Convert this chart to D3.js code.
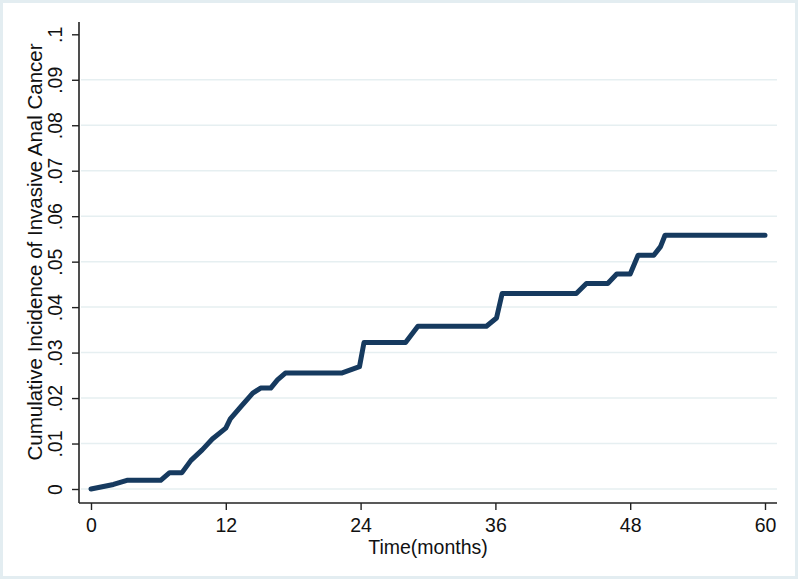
<!DOCTYPE html>
<html>
<head>
<meta charset="utf-8">
<script src="https://cdn.jsdelivr.net/npm/d3@7"></script>
<style>
  body { margin: 0; background: #fff; }
  text { font-family: "Liberation Sans", Arial, sans-serif; fill: #111; }
</style>
</head>
<body>
<div id="vis"></div>
<script>
// values
var months = [0, 1, 2, 3.2, 6.2, 7.0, 8.1, 8.9, 9.9, 10.8, 12.0, 12.4, 13.4, 14.4, 15.1, 16.0, 16.6, 17.3,
  22.3, 23.9, 24.3, 28.0, 29.1, 35.2, 36.1, 36.6, 43.2, 44.1, 46.0, 46.8, 48.0, 48.7, 50.1, 50.7, 51.1, 60];
var incidence = [0, 0.0005, 0.001, 0.0019, 0.0019, 0.0036, 0.0036, 0.0063, 0.0086, 0.011, 0.0134, 0.0154,
  0.0183, 0.0211, 0.0222, 0.0222, 0.0240, 0.0255, 0.0255, 0.0269, 0.0322, 0.0322, 0.0358, 0.0358, 0.0376,
  0.0430, 0.0430, 0.0452, 0.0452, 0.0473, 0.0473, 0.0514, 0.0514, 0.0533, 0.0558, 0.0558];
var xTicks = [0, 12, 24, 36, 48, 60];
var yTicks = [0, 0.01, 0.02, 0.03, 0.04, 0.05, 0.06, 0.07, 0.08, 0.09, 0.1];
var yTickLabels = ['0', '.01', '.02', '.03', '.04', '.05', '.06', '.07', '.08', '.09', '.1'];

var width = 800;
var height = 581;

var svg = d3.select('#vis').append('svg')
  .attr('width', width)
  .attr('height', height);

// light frame round the graph region
svg.append('rect')
  .attr('x', 1.5).attr('y', 1.5)
  .attr('width', 795).attr('height', 576)
  .attr('fill', '#fff')
  .attr('stroke', '#e3edf1')
  .attr('stroke-width', 3);

var x = d3.scaleLinear().domain([0, 60]).range([91, 765]);
var y = d3.scaleLinear().domain([0, 0.1]).range([489, 34.3]);

var plotLeft = 79, plotRight = 777, plotBottom = 503, plotTop = 22;

// gridlines (not at the top tick)
svg.append('g').selectAll('line')
  .data(yTicks.filter(function (d) { return d < 0.1; }))
  .enter().append('line')
  .attr('x1', plotLeft + 2).attr('x2', plotRight)
  .attr('y1', function (d) { return y(d); })
  .attr('y2', function (d) { return y(d); })
  .attr('stroke', '#e6eff1')
  .attr('stroke-width', 1.5);

// y axis
var yAxis = svg.append('g')
  .attr('transform', 'translate(' + plotLeft + ',0)')
  .call(d3.axisLeft(y).tickValues(yTicks).tickSize(7).tickPadding(0)
    .tickFormat(function (d, i) { return yTickLabels[i]; }));
yAxis.select('.domain').attr('d', 'M0,' + plotTop + 'V' + plotBottom)
  .attr('stroke', '#222').attr('stroke-width', 1.6);
yAxis.selectAll('.tick line').attr('stroke', '#222').attr('stroke-width', 1.4);
yAxis.selectAll('.tick text')
  .attr('x', 0).attr('dy', null)
  .attr('transform', 'translate(-17,0) rotate(-90)')
  .attr('text-anchor', 'middle')
  .attr('font-size', 19.5)
  .attr('fill', '#111');

// x axis
var xAxis = svg.append('g')
  .attr('transform', 'translate(0,' + plotBottom + ')')
  .call(d3.axisBottom(x).tickValues(xTicks).tickSize(7).tickPadding(0));
xAxis.select('.domain').attr('d', 'M' + plotLeft + ',0H' + plotRight)
  .attr('stroke', '#222').attr('stroke-width', 1.6);
xAxis.selectAll('.tick line').attr('stroke', '#222').attr('stroke-width', 1.4);
xAxis.selectAll('.tick text')
  .attr('y', 29).attr('dy', null)
  .attr('font-size', 19.5)
  .attr('fill', '#111');

// axis titles
svg.append('text')
  .attr('transform', 'translate(42,252) rotate(-90)')
  .attr('text-anchor', 'middle')
  .attr('font-size', 20.5)
  .text('Cumulative Incidence of Invasive Anal Cancer');

svg.append('text')
  .attr('x', 428).attr('y', 554)
  .attr('text-anchor', 'middle')
  .attr('font-size', 19.5)
  .text('Time(months)');

// cumulative incidence curve
var line = d3.line()
  .x(function (d, i) { return x(months[i]); })
  .y(function (d) { return y(d); });

svg.append('path')
  .datum(incidence)
  .attr('d', line)
  .attr('fill', 'none')
  .attr('stroke', '#163a5f')
  .attr('stroke-width', 5)
  .attr('stroke-linejoin', 'round')
  .attr('stroke-linecap', 'round');
</script>
</body>
</html>
